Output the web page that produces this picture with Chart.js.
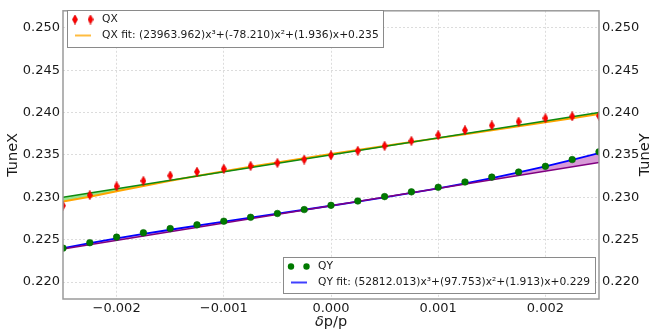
<!DOCTYPE html>
<html>
<head>
<meta charset="utf-8">
<script src="https://cdn.jsdelivr.net/npm/chart.js@4.4.0/dist/chart.umd.min.js"></script>
<style>
  html, body { margin: 0; padding: 0; background: #fff; }
</style>
</head>
<body>
<canvas id="tuneChart" width="652" height="330"></canvas>
<script>
// momentum offsets of the scan
const deltaP = [-0.0025, -0.00225, -0.002, -0.00175, -0.0015, -0.00125, -0.001, -0.00075, -0.0005, -0.00025,
                0, 0.00025, 0.0005, 0.00075, 0.001, 0.00125, 0.0015, 0.00175, 0.002, 0.00225, 0.0025];

// measured tunes
const tuneX = [0.22901, 0.23026, 0.2313, 0.23193, 0.23255, 0.23301, 0.23336, 0.2337, 0.23405, 0.23445,
               0.23495, 0.23548, 0.23607, 0.23665, 0.23733, 0.23791, 0.23847, 0.23892, 0.23932, 0.23955, 0.2396];
const tuneY = [0.2240, 0.22464, 0.2253, 0.22582, 0.22631, 0.22675, 0.22718, 0.22764, 0.22809, 0.22855,
               0.22905, 0.22956, 0.23008, 0.23064, 0.23118, 0.2318, 0.23238, 0.23298, 0.23365, 0.23445, 0.23536];

// cubic fits
const tuneXFit = [0.2295, 0.23007, 0.23072, 0.23134, 0.23194, 0.23251, 0.23306, 0.23359, 0.23411, 0.23461,
                  0.2351, 0.23558, 0.23605, 0.23652, 0.23698, 0.23744, 0.23791, 0.23838, 0.23885, 0.23933, 0.23982];
const tuneYFit = [0.22401, 0.22459, 0.22514, 0.22567, 0.22617, 0.22666, 0.22713, 0.2276, 0.22806, 0.22853,
                  0.229, 0.22949, 0.22999, 0.23051, 0.23106, 0.23165, 0.23227, 0.23293, 0.23364, 0.2344, 0.23522];

// linear chromaticity lines (end points)
const linearEnds = [-0.0025, 0.0025];
const tuneXLinear = [0.2300, 0.2400];
const tuneYLinear = [0.2239, 0.2341];

const xTicks = [-0.002, -0.001, 0, 0.001, 0.002];
const xTickLabels = ['\u22120.002', '\u22120.001', '0.000', '0.001', '0.002'];
const yTicks = [0.220, 0.225, 0.230, 0.235, 0.240, 0.245, 0.250];
const yTickLabels = ['0.220', '0.225', '0.230', '0.235', '0.240', '0.245', '0.250'];

const legendX = ['QX', 'QX fit: (23963.962)x\u00b3+(-78.210)x\u00b2+(1.936)x+0.235'];
const legendY = ['QY', 'QY fit: (52812.013)x\u00b3+(97.753)x\u00b2+(1.913)x+0.229'];

const FONT = "'DejaVu Sans', sans-serif";
const TEXT = '#1a1a1a';

function pts(xs, ys) {
    return xs.map((x, i) => ({ x: x, y: ys[i] }));
}

// thin red diamond marker
function makeDiamond() {
    const c = document.createElement('canvas');
    c.width = 6;
    c.height = 10;
    const g = c.getContext('2d');
    g.beginPath();
    g.moveTo(3, 0.3);
    g.lineTo(5.6, 5);
    g.lineTo(3, 9.7);
    g.lineTo(0.4, 5);
    g.closePath();
    g.fillStyle = '#ff0000';
    g.fill();
    g.strokeStyle = '#cc0000';
    g.lineWidth = 0.6;
    g.stroke();
    return c;
}
const diamond = makeDiamond();

const framePlugin = {
    id: 'frame',
    afterDraw(chart) {
        const ctx = chart.ctx;
        const a = chart.chartArea;
        ctx.save();

        // plot frame
        ctx.strokeStyle = '#9a9a9a';
        ctx.lineWidth = 1.5;
        ctx.strokeRect(a.left, a.top, a.right - a.left, a.bottom - a.top);

        // axis titles
        ctx.fillStyle = TEXT;
        ctx.font = '14.5px ' + FONT;
        ctx.textAlign = 'center';
        ctx.textBaseline = 'middle';
        const midY = (a.top + a.bottom) / 2;
        ctx.save();
        ctx.translate(13, midY);
        ctx.rotate(-Math.PI / 2);
        ctx.fillText('TuneX', 0, 0);
        ctx.restore();
        ctx.save();
        ctx.translate(645, midY);
        ctx.rotate(-Math.PI / 2);
        ctx.fillText('TuneY', 0, 0);
        ctx.restore();

        ctx.textAlign = 'left';
        ctx.font = 'italic 14.5px ' + FONT;
        const wd = ctx.measureText('\u03b4').width;
        ctx.font = '14.5px ' + FONT;
        const wp = ctx.measureText('p/p').width;
        const x0 = 331 - (wd + wp) / 2;
        ctx.font = 'italic 14.5px ' + FONT;
        ctx.fillText('\u03b4', x0, 322);
        ctx.font = '14.5px ' + FONT;
        ctx.fillText('p/p', x0 + wd, 322);

        // legends
        drawLegend(ctx, { x: 67, y: 10, w: 316, h: 37 }, legendX, 'diamond', 'orange');
        drawLegend(ctx, { x: 283, y: 257, w: 312, h: 36 }, legendY, 'circle', '#0000ff');
        ctx.restore();
    }
};

function drawLegend(ctx, box, labels, marker, lineColor) {
    ctx.fillStyle = '#ffffff';
    ctx.fillRect(box.x, box.y, box.w, box.h);
    ctx.strokeStyle = '#8a8a8a';
    ctx.lineWidth = 1;
    ctx.strokeRect(box.x + 0.5, box.y + 0.5, box.w, box.h);

    const r1 = box.y + 9.5;
    const r2 = box.y + 25.5;
    const m1 = box.x + 8;
    const m2 = box.x + 23.5;
    if (marker === 'diamond') {
        ctx.drawImage(diamond, m1 - 3, r1 - 5);
        ctx.drawImage(diamond, m2 - 3, r1 - 5);
    } else {
        ctx.fillStyle = '#007a00';
        [m1, m2].forEach(mx => {
            ctx.beginPath();
            ctx.arc(mx, r1, 3.2, 0, Math.PI * 2);
            ctx.fill();
        });
    }
    ctx.strokeStyle = lineColor;
    ctx.globalAlpha = 0.75;
    ctx.lineWidth = 2;
    ctx.beginPath();
    ctx.moveTo(box.x + 8, r2);
    ctx.lineTo(box.x + 24, r2);
    ctx.stroke();
    ctx.globalAlpha = 1;

    ctx.fillStyle = TEXT;
    ctx.font = '10.7px ' + FONT;
    ctx.textAlign = 'left';
    ctx.textBaseline = 'middle';
    ctx.fillText(labels[0], box.x + 35, r1);
    ctx.fillText(labels[1], box.x + 35, r2);
}

const gridOpts = { color: '#dcdcdc', lineWidth: 1, drawTicks: false };
const borderOpts = { display: false, dash: [2, 2] };

new Chart(document.getElementById('tuneChart'), {
    type: 'scatter',
    data: {
        datasets: [
            {
                label: 'QX',
                data: pts(deltaP, tuneX),
                pointStyle: diamond,
                pointRadius: 5,
                clip: 0,
                order: 0
            },
            {
                label: 'QY',
                data: pts(deltaP, tuneY),
                pointStyle: 'circle',
                pointRadius: 3.3,
                backgroundColor: '#007a00',
                borderColor: '#006400',
                borderWidth: 0.6,
                clip: 0,
                order: 0
            },
            {
                label: 'QX fit',
                data: pts(deltaP, tuneXFit),
                showLine: true,
                borderColor: '#ffa500',
                borderWidth: 2,
                pointRadius: 0,
                order: 3
            },
            {
                label: 'QX linear',
                data: pts(linearEnds, tuneXLinear),
                showLine: true,
                borderColor: '#0f8a0f',
                borderWidth: 1.6,
                pointRadius: 0,
                fill: { target: 2, above: 'rgba(130, 225, 120, 0.85)', below: 'rgba(255, 200, 90, 0.6)' },
                order: 2
            },
            {
                label: 'QY fit',
                data: pts(deltaP, tuneYFit),
                showLine: true,
                borderColor: '#0000ff',
                borderWidth: 1.8,
                pointRadius: 0,
                order: 3
            },
            {
                label: 'QY linear',
                data: pts(linearEnds, tuneYLinear),
                showLine: true,
                borderColor: '#800080',
                borderWidth: 1.5,
                pointRadius: 0,
                fill: { target: 4, above: '#d89ad8', below: '#d89ad8' },
                order: 2
            }
        ]
    },
    options: {
        responsive: false,
        animation: false,
        events: [],
        layout: { padding: { top: 5, left: 0, right: 0, bottom: 0 } },
        plugins: {
            legend: { display: false },
            tooltip: { enabled: false },
            filler: { drawTime: 'beforeDatasetsDraw' }
        },
        scales: {
            x: {
                type: 'linear',
                position: 'bottom',
                min: -0.0025,
                max: 0.0025,
                grid: gridOpts,
                border: borderOpts,
                afterBuildTicks: s => { s.ticks = xTicks.map(v => ({ value: v })); },
                afterFit: s => { s.height = 31; },
                ticks: {
                    padding: 2,
                    maxRotation: 0,
                    color: TEXT,
                    font: { family: FONT, size: 13 },
                    callback: (v, i) => xTickLabels[i]
                }
            },
            y: {
                type: 'linear',
                position: 'left',
                min: 0.218,
                max: 0.252,
                grid: gridOpts,
                border: borderOpts,
                afterBuildTicks: s => { s.ticks = yTicks.map(v => ({ value: v })); },
                afterFit: s => { s.width = 63; },
                ticks: {
                    padding: 3,
                    color: TEXT,
                    font: { family: FONT, size: 13 },
                    callback: (v, i) => yTickLabels[i]
                }
            },
            y2: {
                type: 'linear',
                position: 'right',
                min: 0.218,
                max: 0.252,
                grid: { display: false, drawTicks: false },
                border: { display: false },
                afterBuildTicks: s => { s.ticks = yTicks.map(v => ({ value: v })); },
                afterFit: s => { s.width = 53; },
                ticks: {
                    padding: 3,
                    color: TEXT,
                    font: { family: FONT, size: 13 },
                    callback: (v, i) => yTickLabels[i]
                }
            }
        }
    },
    plugins: [framePlugin]
});
</script>
</body>
</html>
